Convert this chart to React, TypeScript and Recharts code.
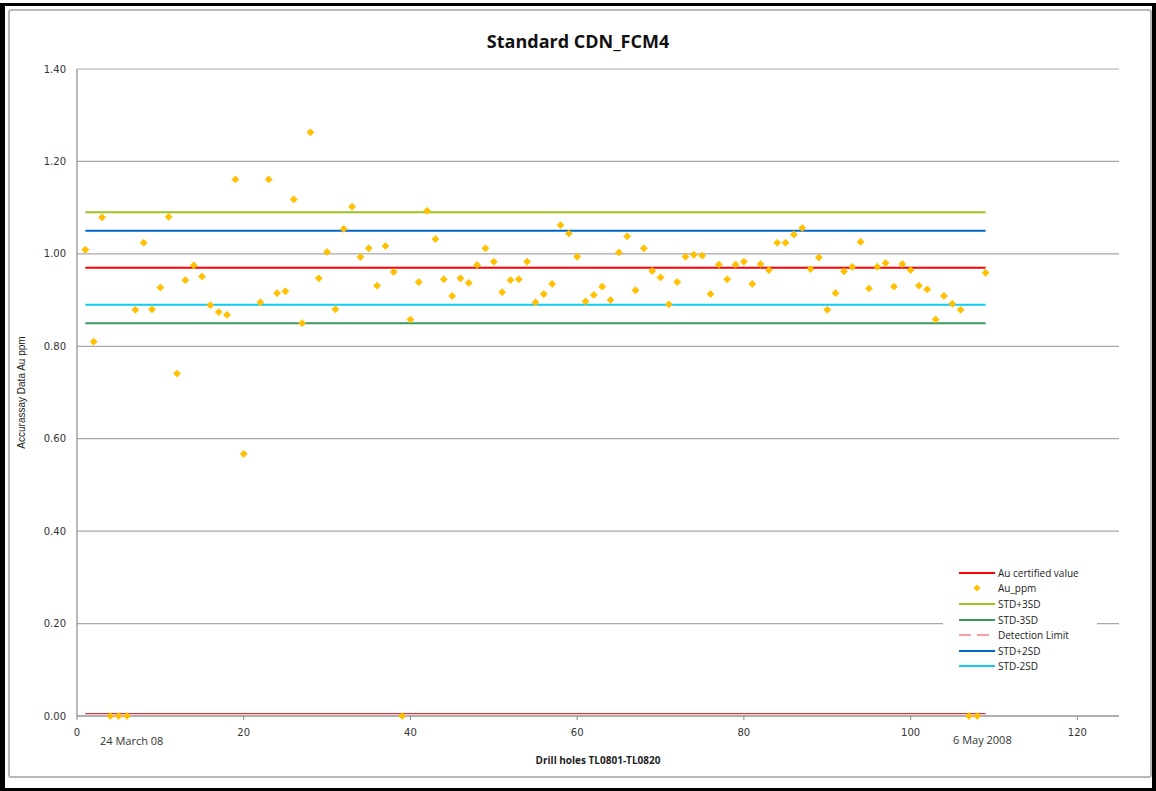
import React from 'react';
import {
  ComposedChart,
  Line,
  Scatter,
  XAxis,
  YAxis,
  CartesianGrid,
  Label,
} from 'recharts';

// Au_ppm values for drill hole sample 1..109 (null = no sample plotted)
const auPpm: (number | null)[] = [
  1.009, 0.81, 1.079, 0, 0, 0, 0.879, 1.024, 0.88, 0.927,
  1.08, 0.741, 0.943, 0.975, 0.951, 0.889, 0.874, 0.868, 1.161, 0.567,
  null, 0.895, 1.161, 0.915, 0.919, 1.118, 0.85, 1.263, 0.947, 1.004,
  0.88, 1.054, 1.102, 0.993, 1.012, 0.931, 1.017, 0.961, 0, 0.858,
  0.939, 1.093, 1.032, 0.945, 0.909, 0.947, 0.937, 0.976, 1.012, 0.983,
  0.917, 0.943, 0.945, 0.983, 0.895, 0.913, 0.935, 1.062, 1.044, 0.994,
  0.897, 0.911, 0.929, 0.9, 1.003, 1.038, 0.921, 1.012, 0.963, 0.949,
  0.891, 0.939, 0.994, 0.998, 0.996, 0.913, 0.977, 0.945, 0.977, 0.983,
  0.935, 0.978, 0.965, 1.024, 1.024, 1.042, 1.056, 0.967, 0.992, 0.879,
  0.915, 0.962, 0.972, 1.026, 0.925, 0.972, 0.98, 0.929, 0.978, 0.965,
  0.931, 0.923, 0.858, 0.909, 0.892, 0.879, 0, 0, 0.959,
];

// Reference levels
const certifiedValue = 0.97;
const std3Plus = 1.09;
const std3Minus = 0.85;
const std2Plus = 1.05;
const std2Minus = 0.89;
const detectionLimit = 0.005;

// Range of the reference lines (drill hole sample index)
const lineRange = [1, 109];

const xTicks = [0, 20, 40, 60, 80, 100, 120];
const yTicks = [0, 0.2, 0.4, 0.6, 0.8, 1.0, 1.2, 1.4];

const legendItems = [
  { name: 'Au certified value', color: '#FF0000', type: 'line' },
  { name: 'Au_ppm', color: '#FFC000', type: 'diamond' },
  { name: 'STD+3SD', color: '#9DC31E', type: 'line' },
  { name: 'STD-3SD', color: '#3A9A5E', type: 'line' },
  { name: 'Detection Limit', color: '#FF8080', type: 'dash' },
  { name: 'STD+2SD', color: '#0068C4', type: 'line' },
  { name: 'STD-2SD', color: '#10CCF5', type: 'line' },
];

const auPoints = auPpm
  .map((v, i) => ({ x: i + 1, au: v }))
  .filter((p) => p.au !== null);

const lineRows = lineRange.map((x) => ({
  x,
  cert: certifiedValue,
  p3: std3Plus,
  m3: std3Minus,
  dl: detectionLimit,
  p2: std2Plus,
  m2: std2Minus,
}));

const Diamond = (props: any) => {
  const { cx, cy } = props;
  if (cx == null || cy == null || isNaN(cx) || isNaN(cy)) return null;
  const r = 3.6;
  return (
    <polygon
      points={`${cx},${cy - r} ${cx + r},${cy} ${cx},${cy + r} ${cx - r},${cy}`}
      fill="#FFC000"
      stroke="#FFC000"
      strokeWidth={0.6}
    />
  );
};

const LegendBox = () => (
  <div
    style={{
      position: 'absolute',
      left: 943,
      top: 562,
      background: '#fff',
      width: 154,
      height: 111,
      boxSizing: 'border-box',
      paddingTop: 3,
      fontFamily: '"Open Sans", "Liberation Sans", sans-serif',
      fontSize: 10,
      color: '#222',
    }}
  >
    {legendItems.map((it) => (
      <div
        key={it.name}
        style={{ display: 'flex', alignItems: 'center', height: 15.6 }}
      >
        <svg width={55} height={10} style={{ flex: 'none' }}>
          {it.type === 'line' && (
            <line x1={16} y1={5} x2={52} y2={5} stroke={it.color} strokeWidth={2} />
          )}
          {it.type === 'dash' && (
            <line
              x1={16}
              y1={5}
              x2={52}
              y2={5}
              stroke={it.color}
              strokeWidth={1.6}
              strokeDasharray="12 6"
            />
          )}
          {it.type === 'diamond' && (
            <polygon points="34,1.5 37.5,5 34,8.5 30.5,5" fill={it.color} />
          )}
        </svg>
        <span style={{ whiteSpace: 'nowrap', lineHeight: '10px' }}>{it.name}</span>
      </div>
    ))}
  </div>
);

export default function App() {
  return (
    <div
      style={{
        position: 'absolute',
        left: 0,
        top: 0,
        width: 1156,
        height: 791,
        background: '#fff',
        overflow: 'hidden',
      }}
    >
      <div
        style={{
          position: 'absolute',
          left: 0,
          top: 3,
          width: 1156,
          height: 788,
          boxSizing: 'border-box',
          borderTop: '3px solid #000',
          borderBottom: '3px solid #000',
          borderLeft: '5px solid #000',
          borderRight: '4px solid #000',
        }}
      />
      <div
        style={{
          position: 'absolute',
          left: 8,
          top: 9,
          width: 1144,
          height: 769,
          boxSizing: 'border-box',
          border: '2px solid #b8b8b8',
          borderRadius: 3,
        }}
      />
      <div style={{ position: 'absolute', left: 0, top: 0 }}>
        <ComposedChart
          width={1156}
          height={791}
          data={lineRows}
          margin={{ top: 69, right: 37, bottom: 45, left: 17 }}
        >
          <CartesianGrid
            horizontal={true}
            vertical={false}
            stroke="#a8a8a8"
            strokeWidth={1.2}
          />
          <XAxis
            type="number"
            dataKey="x"
            domain={[0, 125]}
            ticks={xTicks}
            allowDataOverflow
            height={30}
            tickSize={4}
            tickMargin={9}
            axisLine={{ stroke: '#8a8a8a', strokeWidth: 1.2 }}
            tickLine={{ stroke: '#8a8a8a' }}
            tick={{
              fill: '#333',
              fontSize: 10,
              fontFamily: '"DejaVu Sans", sans-serif',
            }}
          >
            <Label
              content={(p: any) => {
                const vb = p.viewBox || {};
                return (
                  <text
                    x={vb.x + vb.width / 2}
                    y={764}
                    textAnchor="middle"
                    fontSize={10}
                    fontWeight="bold"
                    fontFamily='"Open Sans", "Liberation Sans", sans-serif'
                    fill="#222"
                  >
                    Drill holes TL0801-TL0820
                  </text>
                );
              }}
            />
          </XAxis>
          <YAxis
            type="number"
            domain={[0, 1.4]}
            ticks={yTicks}
            width={60}
            tickSize={4}
            tickMargin={7}
            tickFormatter={(v: number) => v.toFixed(2)}
            axisLine={{ stroke: '#8a8a8a', strokeWidth: 1.2 }}
            tickLine={false}
            tick={{
              fill: '#333',
              fontSize: 10,
              fontFamily: '"DejaVu Sans", sans-serif',
            }}
          >
            <Label
              content={(p: any) => {
                const vb = p.viewBox || {};
                const cy = vb.y + vb.height / 2;
                return (
                  <text
                    x={25}
                    y={cy}
                    transform={`rotate(-90, 25, ${cy})`}
                    textAnchor="middle"
                    fontSize={10}
                    fontFamily='"Liberation Sans", Arial, sans-serif'
                    fill="#222"
                  >
                    Accurassay Data Au ppm
                  </text>
                );
              }}
            />
          </YAxis>
          <Line
            dataKey="cert"
            name="Au certified value"
            stroke="#FF0000"
            strokeWidth={2}
            dot={false}
            isAnimationActive={false}
          />
          <Scatter
            data={auPoints}
            dataKey="au"
            name="Au_ppm"
            fill="#FFC000"
            shape={<Diamond />}
            isAnimationActive={false}
          />
          <Line
            dataKey="p3"
            name="STD+3SD"
            stroke="#9DC31E"
            strokeWidth={2}
            dot={false}
            isAnimationActive={false}
          />
          <Line
            dataKey="m3"
            name="STD-3SD"
            stroke="#3A9A5E"
            strokeWidth={2}
            dot={false}
            isAnimationActive={false}
          />
          <Line
            dataKey="dl"
            name="Detection Limit"
            stroke="#E83232"
            strokeWidth={1.3}
            dot={false}
            isAnimationActive={false}
          />
          <Line
            dataKey="p2"
            name="STD+2SD"
            stroke="#0068C4"
            strokeWidth={2}
            dot={false}
            isAnimationActive={false}
          />
          <Line
            dataKey="m2"
            name="STD-2SD"
            stroke="#10CCF5"
            strokeWidth={2}
            dot={false}
            isAnimationActive={false}
          />
        </ComposedChart>
      </div>
      <LegendBox />
      <div
        style={{
          position: 'absolute',
          left: 0,
          top: 29,
          width: 1156,
          textAlign: 'center',
          fontFamily: '"Open Sans", "Liberation Sans", sans-serif',
          fontWeight: 'bold',
          fontSize: 18,
          color: '#111',
        }}
      >
        Standard CDN_FCM4
      </div>
      <div
        style={{
          position: 'absolute',
          left: 100,
          top: 733,
          fontFamily: '"Open Sans", "Liberation Sans", sans-serif',
          fontSize: 11,
          color: '#333',
          whiteSpace: 'nowrap',
        }}
      >
        24 March 08
      </div>
      <div
        style={{
          position: 'absolute',
          left: 953,
          top: 732,
          fontFamily: '"Open Sans", "Liberation Sans", sans-serif',
          fontSize: 11,
          color: '#333',
          whiteSpace: 'nowrap',
        }}
      >
        6 May 2008
      </div>
    </div>
  );
}
